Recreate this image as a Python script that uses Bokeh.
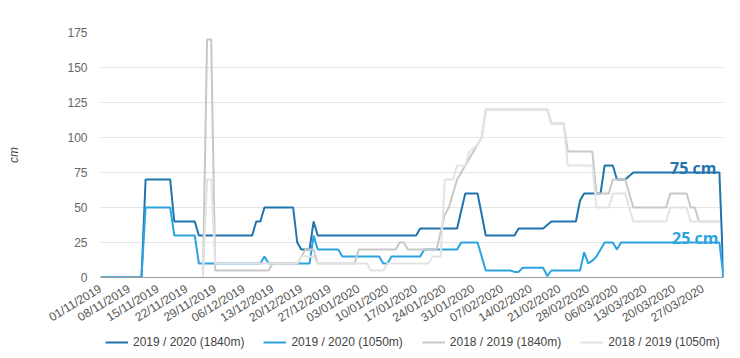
import math
from bokeh.plotting import figure
from bokeh.layouts import column
from bokeh.models import Range1d, FixedTicker, Legend, LegendItem
from bokeh.core.properties import value
from bokeh.embed import file_html
from bokeh.resources import INLINE

# ---- data (x = days since 01/11/2019) ----
tick_days = [0, 7, 14, 21, 28, 35, 42, 49, 56, 63, 70, 77, 84, 91, 98, 105, 112, 119, 126, 133, 140, 147]
tick_labels = ["01/11/2019", "08/11/2019", "15/11/2019", "22/11/2019", "29/11/2019", "06/12/2019",
               "13/12/2019", "20/12/2019", "27/12/2019", "03/01/2020", "10/01/2020", "17/01/2020",
               "24/01/2020", "31/01/2020", "07/02/2020", "14/02/2020", "21/02/2020", "28/02/2020",
               "06/03/2020", "13/03/2020", "20/03/2020", "27/03/2020"]

s1_name = "2019 / 2020 (1840m)"
s1_days = [0, 10, 11, 17, 18, 23, 24, 37, 38, 39, 40, 47, 48, 49, 51, 52, 53, 77, 78, 87, 89, 92, 94,
           101, 102, 108, 110, 116, 117, 118, 122, 123, 125, 126, 128, 130, 151, 152]
s1_vals = [0, 0, 70, 70, 40, 40, 30, 30, 40, 40, 50, 50, 25, 20, 20, 40, 30, 30, 35, 35, 60, 60, 30,
           30, 35, 35, 40, 40, 55, 60, 60, 80, 80, 70, 70, 75, 75, 0]

s2_name = "2019 / 2020 (1050m)"
s2_days = [0, 10, 11, 17, 18, 23, 24, 39, 40, 41, 51, 52, 53, 58, 59, 68, 69, 70, 71, 78, 79, 87, 88,
           92, 94, 100, 101, 102, 103, 108, 109, 110, 117, 118, 119, 120, 121, 123, 125, 126, 127, 151, 152]
s2_vals = [0, 0, 50, 50, 30, 30, 10, 10, 15, 10, 10, 30, 20, 20, 15, 15, 10, 10, 15, 15, 20, 20, 25,
           25, 5, 5, 4, 4, 7, 7, 1, 5, 5, 18, 10, 12, 15, 25, 25, 20, 25, 25, 0]

s3_name = "2018 / 2019 (1840m)"
s3_days = [25, 26, 27, 28, 41, 42, 48, 50, 52, 53, 62, 63, 72, 73, 74, 75, 82, 84, 85, 86, 87, 88, 89,
           90, 91, 92, 93, 94, 109, 110, 113, 114, 120, 121, 124, 125, 128, 130, 138, 139, 143, 144,
           145, 146, 151]
s3_vals = [0, 170, 170, 5, 5, 10, 10, 20, 20, 10, 10, 20, 20, 25, 25, 20, 20, 45, 50, 60, 70, 75, 80,
           85, 90, 95, 100, 120, 120, 110, 110, 90, 90, 60, 60, 70, 70, 50, 50, 60, 60, 50,
           50, 40, 40]

s4_name = "2018 / 2019 (1050m)"
s4_days = [25, 26, 27, 28, 48, 49, 52, 53, 65, 66, 69, 70, 80, 81, 83, 84, 86, 87, 89, 90, 92, 93, 94,
           109, 110, 113, 114, 120, 121, 124, 125, 128, 130, 138, 139, 143, 144, 151]
s4_vals = [0, 70, 70, 10, 10, 15, 15, 10, 10, 5, 5, 10, 10, 15, 15, 70, 70, 80, 80, 90, 95, 100, 120,
           120, 110, 110, 80, 80, 50, 50, 60, 60, 40, 40, 50, 50, 40, 40]

y_ticks = [0, 25, 50, 75, 100, 125, 150, 175]

C1 = "#1f74ad"
C2 = "#2aa3e0"
C3 = "#c8c8c8"
C4 = "#e3e3e3"

series = [(s1_name, s1_days, s1_vals, C1), (s2_name, s2_days, s2_vals, C2),
          (s3_name, s3_days, s3_vals, C3), (s4_name, s4_days, s4_vals, C4)]

p = figure(width=732, height=334, output_backend="svg", toolbar_location=None,
           x_range=Range1d(0, 152), y_range=Range1d(0, 175),
           min_border_left=100, min_border_right=9, min_border_top=32, min_border_bottom=57)
p.outline_line_color = None
p.background_fill_color = "white"
p.border_fill_color = "white"

p.xgrid.visible = False
p.ygrid.grid_line_color = "#e6e6e6"
p.ygrid.grid_line_width = 1

ya = p.yaxis[0]
ya.ticker = FixedTicker(ticks=y_ticks)
ya.axis_line_color = None
ya.major_tick_line_color = None
ya.minor_tick_line_color = None
ya.major_tick_out = 0
ya.major_label_text_font = "Liberation Sans"
ya.major_label_text_font_size = "12px"
ya.major_label_text_color = "#666666"
ya.major_label_standoff = 13
ya.axis_label = "cm"
ya.axis_label_text_font = "Liberation Sans"
ya.axis_label_text_font_size = "12px"
ya.axis_label_text_font_style = "italic"
ya.axis_label_text_color = "#444444"
ya.axis_label_standoff = 43

xa = p.xaxis[0]
xa.ticker = FixedTicker(ticks=tick_days)
xa.major_label_overrides = {d: lab for d, lab in zip(tick_days, tick_labels)}
xa.major_label_orientation = 0.55
xa.axis_line_color = "#9a9a9a"
xa.axis_line_width = 1
xa.major_tick_line_color = None
xa.minor_tick_line_color = None
xa.major_tick_out = 0
xa.major_tick_in = 0
xa.major_label_text_font = "Liberation Sans"
xa.major_label_text_font_size = "12px"
xa.major_label_text_color = "#555555"
xa.major_label_standoff = 10

for name, d, v, c in series:
    p.line(d, v, line_color=c, line_width=2)

# end-value annotations
p.text(x=[s1_days[-2]], y=[s1_vals[-2]], text=[f"{s1_vals[-2]} cm"], text_align="right",
       text_baseline="alphabetic", x_offset=-3, y_offset=-5, text_color=C1,
       text_font=value("Open Sans"), text_font_style="bold", text_font_size="16px")
p.text(x=[s2_days[-2]], y=[s2_vals[-2]], text=[f"{s2_vals[-2]} cm"], text_align="right",
       text_baseline="alphabetic", x_offset=-1, y_offset=-5, text_color=C2,
       text_font=value("Open Sans"), text_font_style="bold", text_font_size="16px")

# legend strip below the chart (series drawn outside its visible range; only the legend shows)
lg = figure(width=732, height=16, output_backend="svg", toolbar_location=None,
            x_range=Range1d(1000, 1001), y_range=Range1d(1000, 1001), min_border=0)
lg.axis.visible = False
lg.grid.visible = False
lg.outline_line_color = None
items = []
for name, d, v, c in series:
    r = lg.line(d, v, line_color=c, line_width=2)
    items.append(LegendItem(label=name, renderers=[r]))
legend = Legend(items=items, orientation="horizontal", location=(5, 1),
                label_text_font="Liberation Sans", label_text_font_size="12px",
                label_text_color="#444444", glyph_width=23, glyph_height=14,
                label_standoff=5, spacing=19, padding=0, margin=0,
                border_line_color=None, background_fill_alpha=0)
lg.add_layout(legend, "center")

layout = column(p, lg, spacing=0)
open("out.html", "w").write(file_html(layout, INLINE))
